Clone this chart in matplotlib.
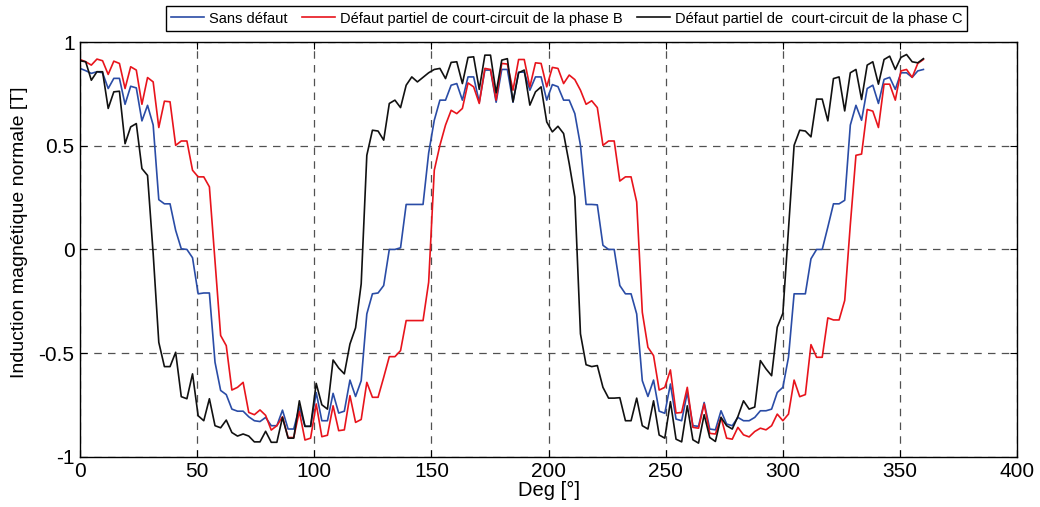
import numpy as np
import matplotlib
matplotlib.use("Agg")
import matplotlib.pyplot as plt

plt.rcParams['font.family'] = ['Liberation Sans', 'DejaVu Sans']

# Rotor angle grid (degrees)
angle = np.linspace(0, 360, 151)

# Normal flux density [T] for the healthy machine
b_sain = [
    0.873, 0.862, 0.849, 0.857, 0.852, 0.776, 0.825, 0.825, 0.700, 0.787,
    0.779, 0.620, 0.695, 0.600, 0.240, 0.220, 0.220, 0.092, 0.003, 0.000,
    -0.040, -0.214, -0.210, -0.210, -0.544, -0.680, -0.700, -0.770, -0.780, -0.780,
    -0.807, -0.826, -0.830, -0.810, -0.850, -0.850, -0.775, -0.866, -0.866, -0.760,
    -0.853, -0.853, -0.690, -0.826, -0.826, -0.694, -0.789, -0.780, -0.630, -0.709,
    -0.633, -0.311, -0.214, -0.210, -0.174, 0.000, 0.000, 0.008, 0.217, 0.217,
    0.217, 0.217, 0.465, 0.623, 0.720, 0.720, 0.792, 0.800, 0.720, 0.832,
    0.832, 0.710, 0.865, 0.865, 0.710, 0.868, 0.868, 0.710, 0.855, 0.855,
    0.768, 0.832, 0.832, 0.720, 0.795, 0.785, 0.720, 0.720, 0.655, 0.502,
    0.217, 0.217, 0.215, 0.020, 0.000, 0.000, -0.174, -0.214, -0.214, -0.311,
    -0.633, -0.709, -0.630, -0.780, -0.790, -0.649, -0.818, -0.826, -0.690, -0.850,
    -0.853, -0.738, -0.866, -0.870, -0.778, -0.842, -0.850, -0.810, -0.826, -0.826,
    -0.810, -0.778, -0.778, -0.770, -0.690, -0.665, -0.520, -0.214, -0.214, -0.214,
    -0.045, 0.000, 0.000, 0.108, 0.220, 0.220, 0.237, 0.600, 0.695, 0.623,
    0.776, 0.792, 0.704, 0.820, 0.830, 0.772, 0.852, 0.852, 0.830, 0.861,
    0.868,
]

# Partial short-circuit on phase B
b_defaut_b = [
    0.916, 0.905, 0.889, 0.918, 0.910, 0.844, 0.908, 0.897, 0.776, 0.881,
    0.865, 0.700, 0.829, 0.808, 0.588, 0.715, 0.712, 0.502, 0.523, 0.523,
    0.382, 0.350, 0.350, 0.302, -0.060, -0.415, -0.464, -0.678, -0.665, -0.641,
    -0.786, -0.797, -0.774, -0.800, -0.871, -0.850, -0.807, -0.907, -0.907, -0.781,
    -0.919, -0.910, -0.745, -0.903, -0.896, -0.754, -0.874, -0.870, -0.705, -0.834,
    -0.820, -0.641, -0.713, -0.713, -0.617, -0.517, -0.517, -0.488, -0.343, -0.343,
    -0.343, -0.343, -0.158, 0.382, 0.502, 0.600, 0.671, 0.655, 0.680, 0.803,
    0.784, 0.704, 0.873, 0.868, 0.720, 0.897, 0.894, 0.768, 0.916, 0.916,
    0.784, 0.900, 0.897, 0.784, 0.878, 0.873, 0.800, 0.841, 0.819, 0.768,
    0.700, 0.717, 0.684, 0.502, 0.523, 0.523, 0.330, 0.350, 0.350, 0.229,
    -0.303, -0.472, -0.512, -0.678, -0.665, -0.581, -0.789, -0.786, -0.665, -0.858,
    -0.862, -0.745, -0.887, -0.890, -0.810, -0.910, -0.915, -0.858, -0.894, -0.904,
    -0.878, -0.862, -0.870, -0.850, -0.794, -0.826, -0.794, -0.630, -0.710, -0.700,
    -0.459, -0.520, -0.520, -0.330, -0.340, -0.340, -0.246, 0.120, 0.454, 0.460,
    0.675, 0.667, 0.588, 0.797, 0.797, 0.720, 0.861, 0.868, 0.830, 0.897,
    0.916,
]

# Partial short-circuit on phase C
b_defaut_c = [
    0.910, 0.905, 0.816, 0.857, 0.857, 0.680, 0.760, 0.763, 0.510, 0.591,
    0.607, 0.390, 0.357, -0.020, -0.448, -0.565, -0.565, -0.496, -0.710, -0.720,
    -0.600, -0.802, -0.826, -0.720, -0.850, -0.860, -0.823, -0.883, -0.900, -0.890,
    -0.900, -0.928, -0.928, -0.877, -0.930, -0.930, -0.810, -0.910, -0.910, -0.730,
    -0.853, -0.853, -0.646, -0.749, -0.770, -0.533, -0.572, -0.600, -0.456, -0.378,
    -0.166, 0.454, 0.575, 0.571, 0.527, 0.704, 0.720, 0.684, 0.792, 0.832,
    0.808, 0.830, 0.852, 0.868, 0.873, 0.824, 0.902, 0.905, 0.800, 0.926,
    0.929, 0.772, 0.937, 0.937, 0.755, 0.913, 0.920, 0.712, 0.852, 0.865,
    0.696, 0.760, 0.784, 0.615, 0.567, 0.594, 0.559, 0.414, 0.253, -0.407,
    -0.556, -0.565, -0.560, -0.665, -0.717, -0.717, -0.715, -0.826, -0.826, -0.717,
    -0.850, -0.866, -0.730, -0.895, -0.910, -0.734, -0.915, -0.928, -0.754, -0.918,
    -0.934, -0.797, -0.907, -0.926, -0.810, -0.850, -0.866, -0.806, -0.730, -0.770,
    -0.760, -0.536, -0.576, -0.609, -0.375, -0.308, 0.100, 0.502, 0.575, 0.571,
    0.543, 0.725, 0.725, 0.620, 0.824, 0.832, 0.668, 0.852, 0.868, 0.723,
    0.889, 0.905, 0.797, 0.916, 0.932, 0.868, 0.926, 0.940, 0.905, 0.900,
    0.920,
]

labels = [
    "Sans défaut",
    "Défaut partiel de court-circuit de la phase B",
    "Défaut partiel de  court-circuit de la phase C",
]
x_ticks = [0, 50, 100, 150, 200, 250, 300, 350, 400]
y_ticks = [-1, -0.5, 0, 0.5, 1]
y_ticklabels = ["-1", "-0.5", "0", "0.5", "1"]

fig = plt.figure(figsize=(10.4, 5.07), dpi=100)
ax = fig.add_axes([0.077, 0.099, 0.901, 0.818])

ax.plot(angle, b_sain, color="#2a4ca6", lw=1.2, label=labels[0])
ax.plot(angle, b_defaut_b, color="#e8141c", lw=1.2, label=labels[1])
ax.plot(angle, b_defaut_c, color="#111111", lw=1.2, label=labels[2])

ax.set_xlim(0, 400)
ax.set_ylim(-1, 1)
ax.set_xticks(x_ticks)
ax.set_yticks(y_ticks)
ax.set_yticklabels(y_ticklabels)
ax.tick_params(direction="in", top=True, right=True, labelsize=15,
               length=5, width=0.8, pad=4)
ax.grid(True, color="#333333", linestyle=(0, (6, 5)), linewidth=0.9, alpha=0.85)
for s in ax.spines.values():
    s.set_linewidth(1.0)
    s.set_color("black")

ax.set_xlabel("Deg [°]", fontsize=14.5, labelpad=0)
ax.set_ylabel("Induction magnétique normale [T]", fontsize=14)
ax.yaxis.set_label_coords(-0.056, 0.542)

leg = fig.legend(loc="center", bbox_to_anchor=(0.5447, 0.9635),
                 bbox_transform=fig.transFigure, ncol=3, fontsize=10.5,
                 frameon=True, fancybox=False, framealpha=1,
                 edgecolor="black", handlelength=2.3, handletextpad=0.3,
                 columnspacing=1.0, borderpad=0.35)
leg.get_frame().set_linewidth(1.0)

fig.savefig("out.png", dpi=100)
